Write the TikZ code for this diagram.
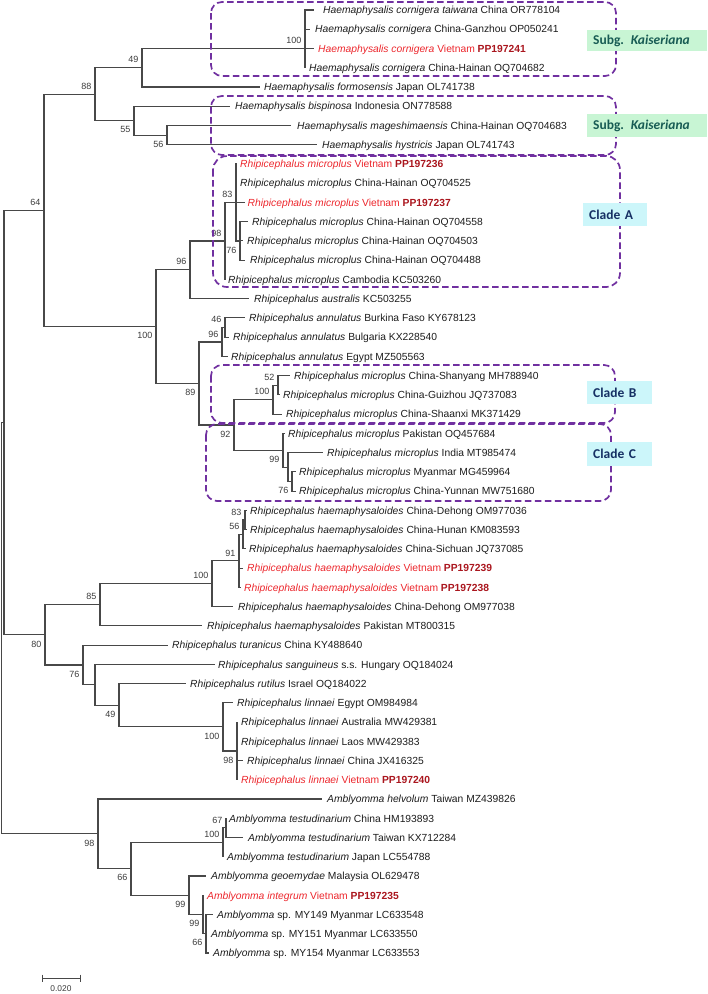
\documentclass[tikz,border=0pt]{standalone}
\usepackage{fontspec}
\setmainfont{Liberation Sans}
\newfontfamily\calibfont{Carlito}
\definecolor{treegray}{RGB}{72,72,72}
\definecolor{txtgray}{RGB}{28,28,28}
\definecolor{bsgray}{RGB}{60,60,60}
\definecolor{vnred}{RGB}{236,38,44}
\definecolor{accred}{RGB}{170,22,30}
\definecolor{boxpurple}{RGB}{112,48,160}
\definecolor{mintfill}{RGB}{200,245,212}
\definecolor{cyanfill}{RGB}{204,246,250}
\definecolor{tealtext}{RGB}{24,92,84}
\definecolor{navytext}{RGB}{22,48,100}
\newcommand\acc[1]{\textbf{\color{accred}#1}}
\newcommand\leaf[6]{\coordinate (#1) at (#2,#4); \draw[branch] (#5) |- (#1); \node[taxon] (#1-lab) at (#3,#4) {#6};}
\newcommand\vleaf[6]{\coordinate (#1) at (#2,#4); \draw[branch] (#5) |- (#1); \node[vtaxon] (#1-lab) at (#3,#4) {#6};}
\newcommand\bsu[2]{\node[bs] (#1-bs) at ([xshift=-3.5pt,yshift=8pt]#1) {#2};}
\newcommand\bsd[2]{\node[bs] (#1-bs) at ([xshift=-3.5pt,yshift=-9pt]#1) {#2};}
\begin{document}
\begin{tikzpicture}[x=1pt,y=-1pt,
  branch/.style={draw=treegray,line width=1.1pt},
  taxon/.style={anchor=base west,inner sep=0pt,yshift=-3.7pt,font=\fontsize{10.3}{12}\selectfont,text=txtgray},
  vtaxon/.style={taxon,text=vnred},
  bs/.style={anchor=east,inner sep=0pt,font=\fontsize{9}{10}\selectfont,text=bsgray},
  dbox/.style={draw=boxpurple,line width=1.7pt,dash pattern=on 6.5pt off 3.5pt,rounded corners=11pt},
  glabel/.style={anchor=west,inner xsep=6pt,inner ysep=0pt,minimum height=21pt,font={\calibfont\fontsize{13.5}{15}\selectfont\bfseries},align=left}
]
\useasboundingbox (0,0) rectangle (708,994);
% internal nodes
\coordinate (root) at (1.5,628.3);
\coordinate (nX) at (4,422.65);
\coordinate (n64) at (44,210.4);
\coordinate (n88) at (95,94.2);
\coordinate (n49) at (142,67.75);
\coordinate (nC100) at (305,48.5);
\coordinate (n55) at (134,120.65);
\coordinate (n56) at (167,135.1);
\coordinate (n100R) at (156,326.6);
\coordinate (n96a) at (190,269.8);
\coordinate (n98A) at (225,240.95);
\coordinate (n83A) at (236,202.5);
\coordinate (n76A) at (240,240.95);
\coordinate (n89) at (199,383.45);
\coordinate (n96b) at (222,341.95);
\coordinate (n46) at (225,327.55);
\coordinate (n92) at (234,424.95);
\coordinate (nB100) at (273,399.7);
\coordinate (n52) at (278,385.3);
\coordinate (n99C) at (283,450.2);
\coordinate (nsub) at (288,467.05);
\coordinate (n76C) at (292,481.5);
\coordinate (n80) at (45,634.9);
\coordinate (n85) at (100,604.8);
\coordinate (nH100) at (212,583.75);
\coordinate (n91) at (239,560.9);
\coordinate (n56H) at (243,534.45);
\coordinate (n83H) at (245,520);
\coordinate (n76T) at (83,664.95);
\coordinate (n95) at (95,684.8);
\coordinate (n49L) at (119,705.25);
\coordinate (nL100) at (223,726.9);
\coordinate (nL98) at (237,750.95);
\coordinate (nA98) at (98,833.9);
\coordinate (nA66) at (131,868.8);
\coordinate (nT100) at (223,842.35);
\coordinate (nT67) at (226,827.9);
\coordinate (nA99) at (189,895.25);
\coordinate (nA99s) at (203,914.5);
\coordinate (nA66s) at (206,933.75);
% internal edges
\draw[branch] (root) |- (nX);  \draw[branch] (root) |- (nA98);
\draw[branch] (nX) |- (n64);   \draw[branch] (nX) |- (n80);
\draw[branch] (n64) |- (n88);  \draw[branch] (n64) |- (n100R);
\draw[branch] (n88) |- (n49);  \draw[branch] (n88) |- (n55);
\draw[branch] (n49) |- (nC100);
\draw[branch] (n55) |- (n56);
\draw[branch] (n100R) |- (n96a); \draw[branch] (n100R) |- (n89);
\draw[branch] (n96a) |- (n98A);
\draw[branch] (n98A) |- (n83A);
\draw[branch] (n83A) |- (n76A);
\draw[branch] (n89) |- (n96b); \draw[branch] (n89) |- (n92);
\draw[branch] (n96b) |- (n46);
\draw[branch] (n92) |- (nB100); \draw[branch] (n92) |- (n99C);
\draw[branch] (nB100) |- (n52);
\draw[branch] (n99C) |- (nsub);
\draw[branch] (nsub) |- (n76C);
\draw[branch] (n80) |- (n85); \draw[branch] (n80) |- (n76T);
\draw[branch] (n85) |- (nH100);
\draw[branch] (nH100) |- (n91);
\draw[branch] (n91) |- (n56H);
\draw[branch] (n56H) |- (n83H);
\draw[branch] (n76T) |- (n95);
\draw[branch] (n95) |- (n49L);
\draw[branch] (n49L) |- (nL100);
\draw[branch] (nL100) |- (nL98);
\draw[branch] (nA98) |- (nA66);
\draw[branch] (nA66) |- (nT100); \draw[branch] (nA66) |- (nA99);
\draw[branch] (nT100) |- (nT67);
\draw[branch] (nA99) |- (nA99s);
\draw[branch] (nA99s) |- (nA66s);
% leaves
\leaf{t0}{314}{323}{10.0}{nC100}{\textit{Haemaphysalis cornigera taiwana} China OR778104}
\leaf{t1}{310}{315}{29.2}{nC100}{\textit{Haemaphysalis cornigera} China-Ganzhou OP050241}
\vleaf{t2}{314}{318}{48.5}{nC100}{\textit{Haemaphysalis cornigera} Vietnam \acc{PP197241}}
\leaf{t3}{306}{309}{67.7}{nC100}{\textit{Haemaphysalis cornigera} China-Hainan OQ704682}
\leaf{t4}{260}{264}{87.0}{n49}{\textit{Haemaphysalis formosensis} Japan OL741738}
\leaf{t5}{230}{235}{106.2}{n55}{\textit{Haemaphysalis bispinosa} Indonesia ON778588}
\leaf{t6}{291}{297}{125.5}{n56}{\textit{Haemaphysalis mageshimaensis} China-Hainan OQ704683}
\leaf{t7}{317}{322}{144.7}{n56}{\textit{Haemaphysalis hystricis} Japan OL741743}
\vleaf{t8}{237}{240}{164.0}{n83A}{\textit{Rhipicephalus microplus} Vietnam \acc{PP197236}}
\leaf{t9}{237}{240}{183.2}{n83A}{\textit{Rhipicephalus microplus} China-Hainan OQ704525}
\vleaf{t10}{245}{247.5}{202.5}{n83A}{\textit{Rhipicephalus microplus} Vietnam \acc{PP197237}}
\leaf{t11}{248}{252}{221.7}{n76A}{\textit{Rhipicephalus microplus} China-Hainan OQ704558}
\leaf{t12}{243}{247}{240.9}{n76A}{\textit{Rhipicephalus microplus} China-Hainan OQ704503}
\leaf{t13}{245}{250}{260.2}{n76A}{\textit{Rhipicephalus microplus} China-Hainan OQ704488}
\leaf{t14}{226}{228}{279.4}{n98A}{\textit{Rhipicephalus microplus} Cambodia KC503260}
\leaf{t15}{249}{254}{298.7}{n96a}{\textit{Rhipicephalus australis} KC503255}
\leaf{t16}{245}{249}{317.9}{n46}{\textit{Rhipicephalus annulatus} Burkina Faso KY678123}
\leaf{t17}{229}{233}{337.2}{n46}{\textit{Rhipicephalus annulatus} Bulgaria KX228540}
\leaf{t18}{228}{231}{356.4}{n96b}{\textit{Rhipicephalus annulatus} Egypt MZ505563}
\leaf{t19}{290}{294}{375.7}{n52}{\textit{Rhipicephalus microplus} China-Shanyang MH788940}
\leaf{t20}{280}{283}{394.9}{n52}{\textit{Rhipicephalus microplus} China-Guizhou JQ737083}
\leaf{t21}{282}{286}{414.1}{nB100}{\textit{Rhipicephalus microplus} China-Shaanxi MK371429}
\leaf{t22}{285}{288}{433.4}{n99C}{\textit{Rhipicephalus microplus} Pakistan OQ457684}
\leaf{t23}{323}{327}{452.6}{nsub}{\textit{Rhipicephalus microplus} India MT985474}
\leaf{t24}{296}{299}{471.9}{n76C}{\textit{Rhipicephalus microplus} Myanmar MG459964}
\leaf{t25}{296}{299}{491.1}{n76C}{\textit{Rhipicephalus microplus} China-Yunnan MW751680}
\leaf{t26}{247}{250}{510.4}{n83H}{\textit{Rhipicephalus haemaphysaloides} China-Dehong OM977036}
\leaf{t27}{247}{250}{529.6}{n83H}{\textit{Rhipicephalus haemaphysaloides} China-Hunan KM083593}
\leaf{t28}{246}{249}{548.9}{n56H}{\textit{Rhipicephalus haemaphysaloides} China-Sichuan JQ737085}
\vleaf{t29}{243}{247}{568.1}{n91}{\textit{Rhipicephalus haemaphysaloides} Vietnam \acc{PP197239}}
\vleaf{t30}{241}{244}{587.4}{n91}{\textit{Rhipicephalus haemaphysaloides} Vietnam \acc{PP197238}}
\leaf{t31}{233}{238}{606.6}{nH100}{\textit{Rhipicephalus haemaphysaloides} China-Dehong OM977038}
\leaf{t32}{202}{207}{625.8}{n85}{\textit{Rhipicephalus haemaphysaloides} Pakistan MT800315}
\leaf{t33}{168}{172}{645.1}{n76T}{\textit{Rhipicephalus turanicus} China KY488640}
\leaf{t34}{215}{218}{664.3}{n95}{\textit{Rhipicephalus sanguineus} s.s. Hungary OQ184024}
\leaf{t35}{186}{190}{683.6}{n49L}{\textit{Rhipicephalus rutilus} Israel OQ184022}
\leaf{t36}{233}{237}{702.8}{nL100}{\textit{Rhipicephalus linnaei} Egypt OM984984}
\leaf{t37}{238}{241}{722.1}{nL98}{\textit{Rhipicephalus linnaei} Australia MW429381}
\leaf{t38}{238}{241}{741.3}{nL98}{\textit{Rhipicephalus linnaei} Laos MW429383}
\leaf{t39}{243}{247}{760.6}{nL98}{\textit{Rhipicephalus linnaei} China JX416325}
\vleaf{t40}{238}{241}{779.8}{nL98}{\textit{Rhipicephalus linnaei} Vietnam \acc{PP197240}}
\leaf{t41}{322}{327}{799.0}{nA98}{\textit{Amblyomma helvolum} Taiwan MZ439826}
\leaf{t42}{227}{229}{818.3}{nT67}{\textit{Amblyomma testudinarium} China HM193893}
\leaf{t43}{243}{248}{837.5}{nT67}{\textit{Amblyomma testudinarium} Taiwan KX712284}
\leaf{t44}{224}{227}{856.8}{nT100}{\textit{Amblyomma testudinarium} Japan LC554788}
\leaf{t45}{206}{211}{876.0}{nA99}{\textit{Amblyomma geoemydae} Malaysia OL629478}
\vleaf{t46}{204}{207}{895.3}{nA99s}{\textit{Amblyomma integrum} Vietnam \acc{PP197235}}
\leaf{t47}{213}{217}{914.5}{nA66s}{\textit{Amblyomma} sp. MY149 Myanmar LC633548}
\leaf{t48}{207}{211}{933.8}{nA66s}{\textit{Amblyomma} sp. MY151 Myanmar LC633550}
\leaf{t49}{209}{213}{953.0}{nA66s}{\textit{Amblyomma} sp. MY154 Myanmar LC633553}
% bootstrap values
\bsu{nC100}{100} \bsu{n49}{49} \bsu{n88}{88} \bsd{n55}{55} \bsd{n56}{56}
\bsu{n64}{64} \bsu{n96a}{96} \bsu{n98A}{98} \bsu{n83A}{83} \bsd{n76A}{76}
\bsd{n100R}{100} \bsd{n89}{89} \bsu{n96b}{96} \bsu{n46}{46} \bsd{n92}{92}
\bsu{nB100}{100} \bsu{n52}{52} \bsd{n99C}{99} \bsd{n76C}{76}
\bsd{n80}{80} \bsu{n85}{85} \bsu{nH100}{100} \bsu{n91}{91} \bsu{n56H}{56} \bsu{n83H}{83}
\bsd{n76T}{76} \bsd{n49L}{49} \bsd{nL100}{100} \bsd{nL98}{98}
\bsd{nA98}{98} \bsd{nA66}{66} \bsu{nT100}{100} \bsu{nT67}{67}
\bsd{nA99}{99} \bsd{nA99s}{99} \bsd{nA66s}{66}
% dashed group boxes
\draw[dbox] (211,2) rectangle (616,76);
\draw[dbox] (211,96) rectangle (616,155);
\draw[dbox,rounded corners=14pt] (213,156) rectangle (620,287);
\draw[dbox] (211,365) rectangle (615,423);
\draw[dbox] (206,424) rectangle (611,501);
% group labels
\node[glabel,fill=mintfill,text=tealtext,text width=108pt] (g1) at (587,40.5) {Subg. \textit{Kaiseriana}};
\node[glabel,fill=mintfill,text=tealtext,text width=108pt,minimum height=23pt] (g2) at (587,125.5) {Subg. \textit{Kaiseriana}};
\node[glabel,fill=cyanfill,text=navytext,text width=52pt,minimum height=23pt] (ca) at (583,214.5) {Clade A};
\node[glabel,fill=cyanfill,text=navytext,text width=53pt,minimum height=23pt] (cb) at (587,392.5) {Clade B};
\node[glabel,fill=cyanfill,text=navytext,text width=53pt,minimum height=24pt] (cc) at (587,454) {Clade C};
% scale bar
\coordinate (sbL) at (42,978);
\coordinate (sbR) at (80,978);
\draw[line width=1pt,treegray] (sbL) -- (sbR);
\draw[line width=1pt,treegray] ([yshift=3.5pt]sbL) -- ([yshift=-3.5pt]sbL);
\draw[line width=1pt,treegray] ([yshift=3.5pt]sbR) -- ([yshift=-3.5pt]sbR);
\node[inner sep=0pt,font=\fontsize{8.4}{10}\selectfont,text=bsgray] (sbt) at (61,989) {0.020};
\end{tikzpicture}
\end{document}
